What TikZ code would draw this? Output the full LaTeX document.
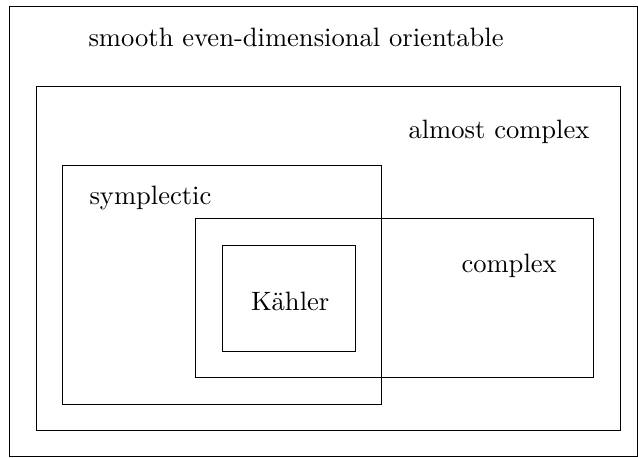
\documentclass[tikz,border=0pt]{standalone}
\begin{document}
\begin{tikzpicture}[x=0.3764pt,y=-0.3764pt,
  region/.style={draw,line width=0.38pt},
  lbl/.style={anchor=base west,inner sep=0pt}]
\useasboundingbox (0,0) rectangle (638,458);
\draw[region] (9.5,6.5) rectangle (637.5,456.5);
\draw[region] (36.5,86.5) rectangle (620.5,430.5);
\draw[region] (62.5,165.5) rectangle (381.5,404.5);
\draw[region] (195.5,218.5) rectangle (593.5,377.5);
\draw[region] (222.5,245.5) rectangle (355.5,351.5);
\node[lbl] (smooth) at (88,46.7) {smooth even-dimensional orientable};
\node[lbl] (almost) at (408,138.3) {almost complex};
\node[lbl] (sympl) at (89,204.5) {symplectic};
\node[lbl] (cplx) at (461,272.3) {complex};
\node[lbl] (kahler) at (250.5,310) {K\"ahler};
\end{tikzpicture}
\end{document}
